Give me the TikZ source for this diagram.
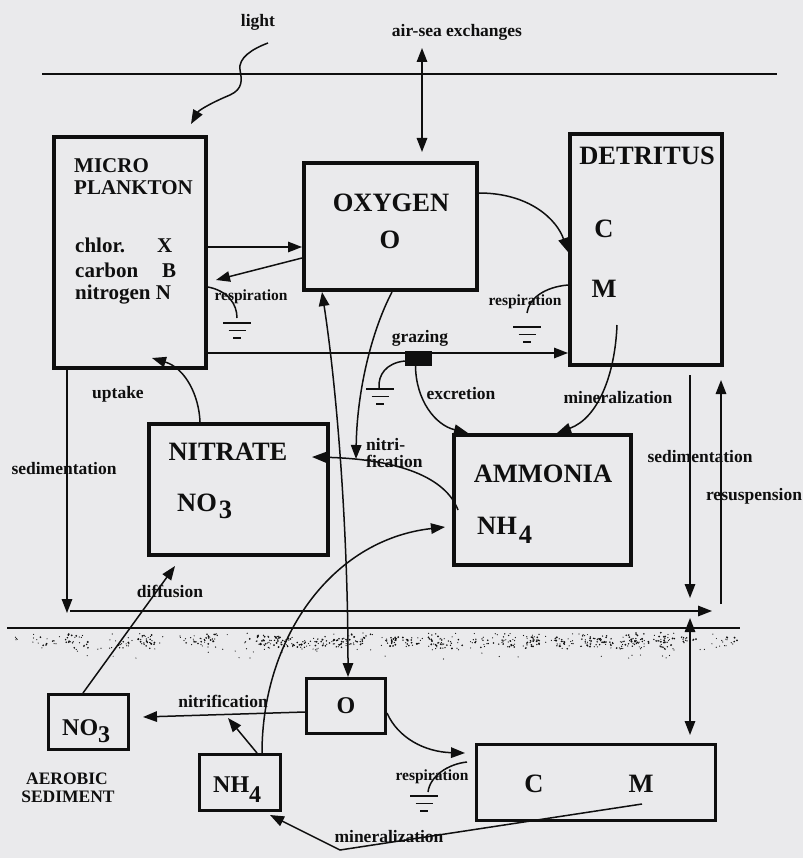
\documentclass[tikz,border=0pt]{standalone}
\usepackage{fontspec}
\setmainfont{Liberation Serif}
\usetikzlibrary{arrows.meta,calc}
\definecolor{bg}{RGB}{234,234,236}
\definecolor{ink}{RGB}{15,15,15}
\tikzset{
  gnd/.pic={\draw[ink, line width=1.5pt] (-14,0)--(14,0) (-8.5,7.5)--(8.5,7.5) (-4,15)--(4,15);}
}
\begin{document}
\begin{tikzpicture}[x=1pt,y=-1pt,
  box/.style={draw=ink, line width=3.8pt, inner sep=0pt, anchor=north west},
  sbox/.style={box, line width=3.2pt},
  conn/.style={draw=ink, line width=1.5pt},
  arr/.style={conn, -{Triangle[length=14pt,width=10.5pt]}},
  darr/.style={conn, {Triangle[length=14pt,width=10.5pt]}-{Triangle[length=14pt,width=10.5pt]}},
  lab/.style={font=\bfseries\fontsize{17.5}{20}\selectfont, text=ink, inner sep=0pt},
  rlab/.style={font=\bfseries\fontsize{15.5}{18}\selectfont, text=ink, inner sep=0pt},
  big/.style={font=\bfseries\fontsize{26.5}{30}\selectfont, text=ink, inner sep=0pt},
  mid/.style={font=\bfseries\fontsize{21}{24}\selectfont, text=ink, inner sep=0pt},
  sml/.style={font=\bfseries\fontsize{24}{28}\selectfont, text=ink, inner sep=0pt}
]
\fill[bg] (0,0) rectangle (803,858);
\useasboundingbox (0,0) rectangle (803,858);

% ---------- boxes ----------
\node[box, minimum width=152.2pt, minimum height=231.2pt] (micro) at (52,135) {};
\node[box, minimum width=173.2pt, minimum height=127.2pt] (oxy) at (302,161) {};
\node[box, minimum width=152.2pt, minimum height=231.2pt] (detr) at (568,132) {};
\node[box, minimum width=179.2pt, minimum height=131.2pt] (nitrate) at (147,422) {};
\node[box, minimum width=177.2pt, minimum height=130.2pt] (ammonia) at (452,433) {};
\node[sbox, minimum width=78.8pt, minimum height=54.8pt] (sO) at (305,677) {};
\node[sbox, minimum width=79.8pt, minimum height=54.8pt] (sNO3) at (47,693) {};
\node[sbox, minimum width=80.8pt, minimum height=55.8pt] (sNH4) at (198,753) {};
\node[sbox, minimum width=238.8pt, minimum height=75.8pt] (sCM) at (475,743) {};
\node[fill=ink, minimum width=27pt, minimum height=15pt, inner sep=0pt] (graze) at (418.5,358.5) {};

% ---------- box texts ----------
\node[mid, anchor=base west] (tmicro) at (74,173) {MICRO};
\node[mid, anchor=base west] (tplank) at (74,195) {PLANKTON};
\node[mid, anchor=base west] (tchl) at (75,253) {chlor.};
\node[mid, anchor=base west] (tX) at (157,253) {X};
\node[mid, anchor=base west] (tcarb) at (75,277) {carbon};
\node[mid, anchor=base west] (tB) at (162,277) {B};
\node[mid, anchor=base west] (tnit) at (75,299) {nitrogen N};

\node[big, anchor=base] (toxy) at (391,212) {OXYGEN};
\node[big, anchor=base] (toxyO) at (390,249) {O};
\node[big, anchor=base] (tdetr) at (647,165) {DETRITUS};
\node[big, anchor=base] (tdC) at (604,238) {C};
\node[big, anchor=base] (tdM) at (604,298) {M};
\node[big, anchor=base] (tnitr) at (228,460) {NITRATE};
\node[big, anchor=base west] (tno3) at (177,511) {NO\hspace{2pt}\raisebox{-7pt}{3}};
\node[big, anchor=base] (tamm) at (543,482) {AMMONIA};
\node[big, anchor=base west] (tnh4) at (477,534) {NH\hspace{2pt}\raisebox{-9pt}{4}};

\node[sml, anchor=base west] (tsno3) at (62,735) {NO\raisebox{-7pt}{3}};
\node[sml, anchor=base west] (tsnh4) at (213,792) {NH\raisebox{-10pt}{4}};
\node[sml, anchor=base] (tsO) at (346,713) {O};
\node[big, anchor=base] (tsC) at (534,792) {C};
\node[big, anchor=base] (tsM) at (641,792) {M};

% ---------- labels ----------
\node[lab, anchor=base] (llight) at (258,27) {light};
\node[lab, anchor=base] (lair) at (457,37) {air-sea exchanges};
\node[rlab, anchor=base] (lresp1) at (251,300) {respiration};
\node[rlab, anchor=base] (lresp2) at (525,305) {respiration};
\node[lab, anchor=base] (lgraz) at (420,342) {grazing};
\node[lab, anchor=base] (lexc) at (461,399) {excretion};
\node[lab, anchor=base] (lmin1) at (618,403) {mineralization};
\node[lab, anchor=base] (lupt) at (118,398) {uptake};
\node[lab, anchor=base] (lsed1) at (64,474) {sedimentation};
\node[lab, anchor=base west] (lnitri) at (366,450) {nitri-};
\node[lab, anchor=base west] (lfic) at (366,467) {fication};
\node[lab, anchor=base] (lsed2) at (700,462) {sedimentation};
\node[lab, anchor=base] (lresus) at (754,500) {resuspension};
\node[lab, anchor=base] (ldiff) at (170,597) {diffusion};
\node[lab, anchor=base] (lnitrif) at (223,707) {nitrification};
\node[lab, anchor=base] (laer) at (67,784) {AEROBIC};
\node[lab, anchor=base] (lsedi) at (68,802) {SEDIMENT};
\node[rlab, anchor=base] (lresp3) at (432,780) {respiration};
\node[lab, anchor=base] (lmin2) at (389,842) {mineralization};

% ---------- free-end coordinates ----------
\coordinate (surfL) at (42,74);
\coordinate (surfR) at (777,74);
\coordinate (lightS) at (268,43);
\coordinate (lightE) at (191,124);
\coordinate (airT) at (422,48);
\coordinate (airB) at (422,152);
\coordinate (respTip) at (216,280);
\coordinate (g1) at (237,323);
\coordinate (g2) at (527,327);
\coordinate (g3) at (380,389);
\coordinate (g4) at (424,796);
\coordinate (detrM) at (617,325);
\coordinate (uptT) at (152,358);
\coordinate (sedTip) at (67,613);
\coordinate (sedL) at (70,611);
\coordinate (sedR) at (712,611);
\coordinate (dsedT) at (690,375);
\coordinate (dsedB) at (690,598);
\coordinate (resB) at (721,604);
\coordinate (resT) at (721,380);
\coordinate (bedL) at (7,628);
\coordinate (bedR) at (740,628);
\coordinate (exT) at (690,618);
\coordinate (exB) at (690,735);
\coordinate (nfS) at (458,510);
\coordinate (nfE) at (312,457);
\coordinate (difE) at (175,566);
\coordinate (snfE) at (143,717);
\coordinate (snhE) at (228,718);
\coordinate (smS) at (642,804);
\coordinate (smV) at (340,850);
\coordinate (smE) at (270,815);

% ---------- connectors ----------
\draw[conn] (surfL) -- (surfR);
\draw[arr] (lightS) .. controls (252,49) and (238,58) .. (240,70)
  .. controls (242,80) and (243,89) .. (230,95)
  .. controls (213,102) and (199,110) .. (lightE);
\draw[darr] (airT) -- (airB);

\draw[arr] (micro.east |- 0,247) -- (oxy.west |- 0,247);
\draw[arr] (oxy.west |- 0,258) -- (respTip);
\draw[conn] (micro.east |- 0,287) .. controls (228,291) and (237,304) .. (237,318);
\pic at (g1) {gnd};

\draw[arr] (oxy.east |- 0,193) .. controls (530,193) and (557,220) .. (detr.west |- 0,252);
\draw[conn] (detr.west |- 0,285) .. controls (545,287) and (529,298) .. (527,313);
\pic at (g2) {gnd};

\draw[conn] (micro.east |- 0,353) -- (graze.west |- 0,353);
\draw[arr] (graze.east |- 0,353) -- (detr.west |- 0,353);
\draw[conn] (graze.west |- 0,361) .. controls (386,363) and (378,375) .. (379,388);
\pic at (g3) {gnd};
\draw[arr] ([xshift=-3pt]graze.south) .. controls (416,400) and (435,425) .. (468,0 |- ammonia.north);
\draw[arr] (detrM) .. controls (615,375) and (598,418) .. (557,0 |- ammonia.north);

\draw[arr] (nitrate.north -| 200,0) .. controls (199,395) and (185,368) .. (uptT);

\draw[arr] (micro.south -| 67,0) -- (sedTip);
\draw[arr] (sedL) -- (sedR);
\draw[arr] (dsedT) -- (dsedB);
\draw[arr] (resB) -- (resT);

\draw[conn] (bedL) -- (bedR);
% speckled sediment band: clumps plus scattered grains
\pgfmathsetseed{31}
\foreach \c in {1,...,75}{
  \pgfmathsetmacro\cx{14+722*rnd}
  \pgfmathsetmacro\cy{637+9*rnd}
  \foreach \k in {1,...,7}{
    \pgfmathsetmacro\rx{\cx+16*(rnd-0.5)}
    \pgfmathsetmacro\ry{\cy+9*(rnd-0.5)}
    \pgfmathsetmacro\rr{0.55+0.5*rnd}
    \fill[ink] (\rx,\ry) circle (\rr pt);
  }
}
\foreach \i in {1,...,160}{
  \pgfmathsetmacro\rx{12+728*rnd}
  \pgfmathsetmacro\ry{633+17*rnd}
  \fill[ink] (\rx,\ry) circle (0.6pt);
}
\foreach \i in {1,...,30}{
  \pgfmathsetmacro\rx{60+640*rnd}
  \pgfmathsetmacro\ry{648+12*rnd}
  \fill[ink] (\rx,\ry) circle (0.6pt);
}
\draw[darr] (exT) -- (exB);

\draw[darr] (oxy.south -| 322,0) .. controls (337,390) and (348,530) .. (sO.north -| 348,0);
\draw[arr] (oxy.south -| 392,0) .. controls (372,330) and (357,390) .. (356,459);
\draw[arr] (nfS) .. controls (446,478) and (400,459) .. (nfE);
\draw[arr] (sNH4.north -| 262,0) .. controls (262,640) and (330,540) .. ([xshift=-7pt]ammonia.west |- 0,527);

\draw[arr] (sNO3.north -| 83,0) -- (difE);
\draw[arr] (sO.west |- 0,712) -- (snfE);
\draw[arr] (sNH4.north -| 257,0) -- (snhE);
\draw[arr] (smS) -- (smV) -- (smE);
\draw[arr] (sO.east |- 0,713) .. controls (398,738) and (425,752) .. ([xshift=-10pt]sCM.west |- 0,753);
\draw[conn] ([xshift=-8pt]sCM.west |- 0,762) .. controls (448,764) and (430,776) .. (428,792);
\pic at (g4) {gnd};
\end{tikzpicture}
\end{document}
